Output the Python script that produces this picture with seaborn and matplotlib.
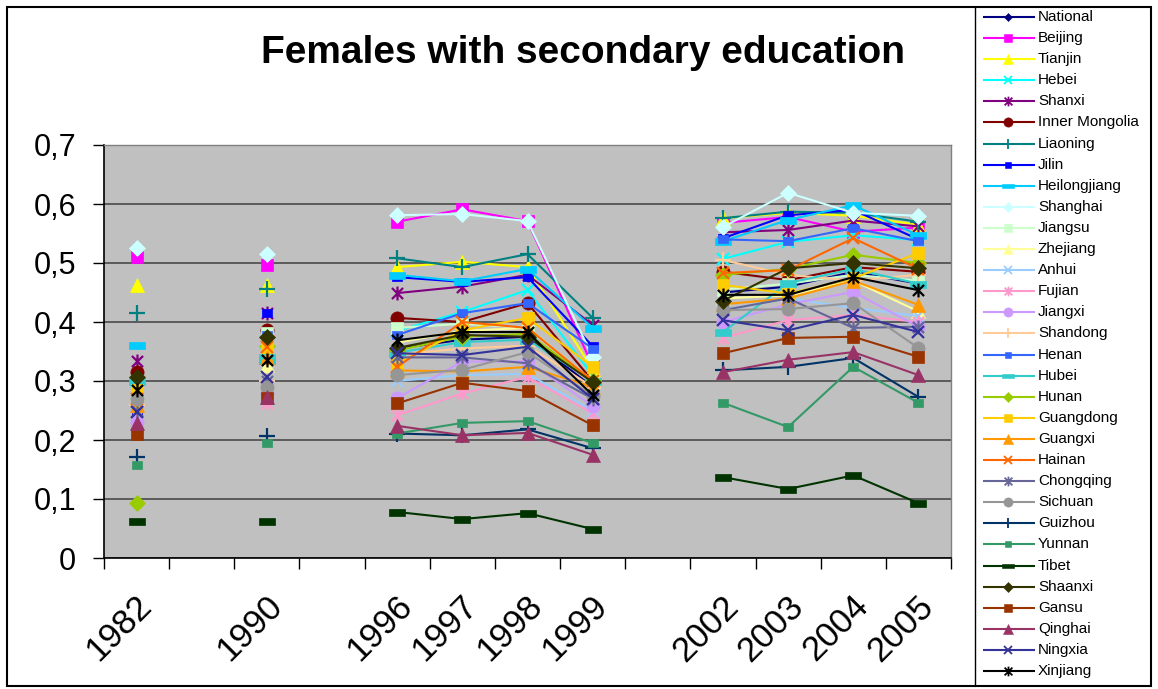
import numpy as np
import pandas as pd
import matplotlib
matplotlib.use("Agg")
import matplotlib.pyplot as plt
from matplotlib.path import Path
from matplotlib.patches import Rectangle
from matplotlib.transforms import ScaledTranslation
import seaborn as sns

# Category axis (blank slots keep the survey gaps between years)
categories = ["1982", "", "1990", "", "1996", "1997", "1998", "1999", "",
              "2002", "2003", "2004", "2005"]
years = ["1982", "1990", "1996", "1997", "1998", "1999", "2002", "2003", "2004", "2005"]

# Share of females with secondary education, one list per region
national       = [0.280, 0.335, 0.355, 0.370, 0.375, 0.290, 0.450, 0.460, 0.485, 0.465]
beijing        = [0.510, 0.497, 0.570, 0.591, 0.571, 0.325, 0.568, 0.578, 0.553, 0.560]
tianjin        = [0.463, 0.463, 0.493, 0.502, 0.493, 0.320, 0.576, 0.585, 0.580, 0.565]
hebei          = [0.298, 0.345, 0.385, 0.417, 0.454, 0.310, 0.507, 0.536, 0.547, 0.539]
shanxi         = [0.334, 0.415, 0.449, 0.460, 0.480, 0.395, 0.552, 0.556, 0.572, 0.562]
inner_mongolia = [0.315, 0.386, 0.407, 0.400, 0.432, 0.300, 0.485, 0.471, 0.493, 0.485]
liaoning       = [0.415, 0.456, 0.508, 0.493, 0.515, 0.407, 0.576, 0.587, 0.585, 0.570]
jilin          = [0.250, 0.415, 0.476, 0.468, 0.476, 0.359, 0.542, 0.581, 0.590, 0.540]
heilongjiang   = [0.361, 0.336, 0.480, 0.469, 0.490, 0.390, 0.537, 0.573, 0.598, 0.547]
shanghai       = [0.525, 0.515, 0.581, 0.583, 0.571, 0.341, 0.561, 0.619, 0.585, 0.580]
jiangsu        = [0.300, 0.382, 0.390, 0.397, 0.390, 0.300, 0.455, 0.465, 0.480, 0.470]
zhejiang       = [0.280, 0.327, 0.365, 0.385, 0.390, 0.300, 0.440, 0.445, 0.470, 0.418]
anhui          = [0.240, 0.270, 0.300, 0.310, 0.312, 0.250, 0.420, 0.440, 0.424, 0.410]
fujian         = [0.240, 0.262, 0.242, 0.279, 0.307, 0.245, 0.373, 0.403, 0.412, 0.400]
jiangxi        = [0.230, 0.280, 0.271, 0.333, 0.333, 0.258, 0.400, 0.430, 0.451, 0.392]
shandong       = [0.260, 0.300, 0.345, 0.355, 0.360, 0.290, 0.505, 0.480, 0.470, 0.480]
henan          = [0.290, 0.378, 0.378, 0.415, 0.432, 0.355, 0.540, 0.537, 0.559, 0.537]
hubei          = [0.300, 0.340, 0.348, 0.366, 0.370, 0.300, 0.383, 0.466, 0.490, 0.465]
hunan          = [0.093, 0.360, 0.352, 0.375, 0.380, 0.300, 0.480, 0.490, 0.514, 0.500]
guangdong      = [0.285, 0.358, 0.330, 0.386, 0.407, 0.324, 0.463, 0.448, 0.474, 0.517]
guangxi        = [0.260, 0.340, 0.318, 0.316, 0.324, 0.290, 0.430, 0.440, 0.470, 0.429]
hainan         = [0.270, 0.358, 0.324, 0.400, 0.390, 0.300, 0.483, 0.488, 0.542, 0.490]
chongqing      = [0.250, 0.300, 0.340, 0.340, 0.330, 0.270, 0.420, 0.440, 0.390, 0.392]
sichuan        = [0.270, 0.290, 0.310, 0.319, 0.349, 0.275, 0.420, 0.422, 0.432, 0.356]
guizhou        = [0.171, 0.207, 0.211, 0.208, 0.218, 0.186, 0.318, 0.324, 0.339, 0.273]
yunnan         = [0.158, 0.195, 0.211, 0.229, 0.232, 0.195, 0.263, 0.222, 0.324, 0.263]
tibet          = [0.063, 0.063, 0.078, 0.066, 0.076, 0.049, 0.137, 0.117, 0.140, 0.093]
shaanxi        = [0.307, 0.375, 0.356, 0.378, 0.375, 0.298, 0.436, 0.491, 0.500, 0.491]
gansu          = [0.210, 0.271, 0.262, 0.297, 0.283, 0.225, 0.347, 0.373, 0.375, 0.341]
qinghai        = [0.228, 0.273, 0.224, 0.208, 0.212, 0.175, 0.315, 0.336, 0.349, 0.310]
ningxia        = [0.247, 0.307, 0.347, 0.344, 0.358, 0.270, 0.403, 0.386, 0.412, 0.383]
xinjiang       = [0.285, 0.336, 0.369, 0.383, 0.383, 0.276, 0.446, 0.446, 0.476, 0.454]

regions = ["National", "Beijing", "Tianjin", "Hebei", "Shanxi", "Inner Mongolia",
           "Liaoning", "Jilin", "Heilongjiang", "Shanghai", "Jiangsu", "Zhejiang",
           "Anhui", "Fujian", "Jiangxi", "Shandong", "Henan", "Hubei", "Hunan",
           "Guangdong", "Guangxi", "Hainan", "Chongqing", "Sichuan", "Guizhou",
           "Yunnan", "Tibet", "Shaanxi", "Gansu", "Qinghai", "Ningxia", "Xinjiang"]
region_values = [national, beijing, tianjin, hebei, shanxi, inner_mongolia, liaoning,
                 jilin, heilongjiang, shanghai, jiangsu, zhejiang, anhui, fujian,
                 jiangxi, shandong, henan, hubei, hunan, guangdong, guangxi, hainan,
                 chongqing, sichuan, guizhou, yunnan, tibet, shaanxi, gansu, qinghai,
                 ningxia, xinjiang]

colors = ["#000080", "#FF00FF", "#FFFF00", "#00FFFF", "#800080", "#800000", "#008080",
          "#0000FF", "#00CCFF", "#CCFFFF", "#CCFFCC", "#FFFF99", "#99CCFF", "#FF99CC",
          "#CC99FF", "#FFCC99", "#3366FF", "#33CCCC", "#99CC00", "#FFCC00", "#FF9900",
          "#FF6600", "#666699", "#969696", "#003366", "#339966", "#003300", "#333300",
          "#993300", "#993366", "#333399", "#000000"]

# Marker shapes, cycled over the series
ASTERISK = Path([(-1, -1), (1, 1), (-1, 1), (1, -1), (0, -1.25), (0, 1.25)],
                [Path.MOVETO, Path.LINETO] * 3)
SMALL_SQ = Path([(-1, -0.75), (1, -0.75), (1, 0.75), (-1, 0.75), (-1, -0.75)], closed=True)
DASH = Path([(-1, -0.42), (1, -0.42), (1, 0.42), (-1, 0.42), (-1, -0.42)], closed=True)
marker_cycle = [("D", 8.0, True), ("s", 9.0, True), ("^", 10.0, True), ("x", 9.0, False),
                (ASTERISK, 10.0, False), ("o", 9.5, True), ("+", 11.0, False),
                (SMALL_SQ, 7.0, True), (DASH, 12.0, True)]

# Long table: x position on the category axis and a segment id that breaks lines at gaps
pos = [categories.index(y) for y in years]
seg = np.cumsum([0] + [int(b - a > 1) for a, b in zip(pos, pos[1:])])
rows = []
for name, vals in zip(regions, region_values):
    for yr, p, s, v in zip(years, pos, seg, vals):
        rows.append({"region": name, "year": yr, "pos": p, "segment": s, "value": v})
df = pd.DataFrame(rows)

sns.set_style("white")
plt.rcParams["font.family"] = ["Liberation Sans", "DejaVu Sans"]
plt.rcParams["text.color"] = "black"
plt.rcParams["xtick.color"] = "black"
plt.rcParams["ytick.color"] = "black"
plt.rcParams["axes.labelcolor"] = "black"

W, H = 1158, 689
fig = plt.figure(figsize=(W / 100, H / 100), dpi=100)
fig.patch.set_facecolor("white")
ax = fig.add_axes([104 / W, (H - 558) / H, (951 - 104) / W, (558 - 145) / H])
ax.set_facecolor("#C0C0C0")


def style_for(i):
    m, ms, filled = marker_cycle[i % len(marker_cycle)]
    if i == 0:
        ms = 6.0
    return m, ms, filled


for i, name in enumerate(regions):
    m, ms, filled = style_for(i)
    c = colors[i]
    sns.lineplot(data=df[df["region"] == name], x="pos", y="value", units="segment",
                 estimator=None, sort=True, ax=ax, legend=False, color=c,
                 linewidth=1.5, marker=m, markersize=ms,
                 markerfacecolor=c if filled else "none",
                 markeredgecolor=c, markeredgewidth=1.6 if not filled else 0.5,
                 zorder=3 + i)

ax.set_xlabel("")
ax.set_ylabel("")
ax.set_xlim(-0.5, 12.5)
ax.set_ylim(0, 0.7)

yt = np.round(np.arange(0, 0.71, 0.1), 1)
ax.set_yticks(yt)
ax.set_yticklabels(["0" if v == 0 else f"{v:.1f}".replace(".", ",") for v in yt])
ax.tick_params(axis="y", left=True, length=8, width=1, color="black", pad=12,
               labelsize=22, labelcolor="black", direction="out")
ax.yaxis.grid(True, color="#404040", linewidth=1.1)
ax.xaxis.grid(False)
ax.set_axisbelow(True)

ax.set_xticks(np.arange(-0.5, 13, 1))
ax.set_xticklabels([])
ax.set_xticks(range(len(categories)), minor=True)
ax.set_xticklabels(categories, minor=True, rotation=45, ha="right",
                   rotation_mode="anchor", va="center", fontsize=25)
ax.tick_params(axis="x", which="major", bottom=True, length=8, width=1,
               color="black", direction="out")
ax.tick_params(axis="x", which="minor", bottom=True, length=0, pad=31,
               labelcolor="black")
shift = ScaledTranslation(0.10, 0, fig.dpi_scale_trans)
for lbl in ax.get_xticklabels(minor=True):
    lbl.set_transform(lbl.get_transform() + shift)

for s in ["top", "right"]:
    ax.spines[s].set_color("#808080")
    ax.spines[s].set_linewidth(1.0)
for s in ["left", "bottom"]:
    ax.spines[s].set_color("black")
    ax.spines[s].set_linewidth(1.2)

fig.text(583 / W, 1 - 53 / H, "Females with secondary education", ha="center",
         va="center", fontsize=28, fontweight="bold", color="black")

# Chart frame and legend box, drawn in pixel coordinates
frame = fig.add_axes([0, 0, 1, 1], zorder=10)
frame.patch.set_alpha(0)
frame.set_xlim(0, W)
frame.set_ylim(H, 0)
frame.axis("off")
frame.add_patch(Rectangle((7, 7), 1151 - 7, 686 - 7, fill=False, ec="black", lw=1.5))
frame.plot([975, 975], [7, 686], color="black", lw=1.0)

row_top, row_step = 17, (671 - 17) / 31
for i, name in enumerate(regions):
    m, ms, filled = style_for(i)
    c = colors[i]
    yy = row_top + i * row_step
    frame.plot([983, 1035], [yy, yy], color=c, lw=1.5, solid_capstyle="butt")
    frame.plot([1008], [yy], linestyle="none", marker=m, markersize=ms * 0.7,
               markerfacecolor=c if filled else "none", markeredgecolor=c,
               markeredgewidth=1.3 if not filled else 0.4)
    frame.text(1038, yy, name, ha="left", va="center", fontsize=11, color="black")

fig.savefig("out.png", dpi=100)
